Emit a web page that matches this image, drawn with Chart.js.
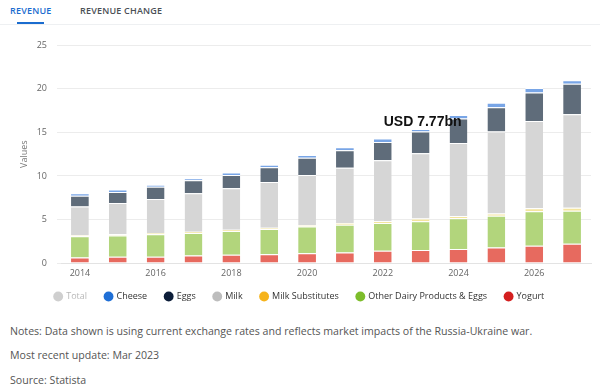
<!DOCTYPE html>
<html>
<head>
<meta charset="utf-8">
<script src="https://cdn.jsdelivr.net/npm/chart.js@4"></script>
<style>
    body { margin: 0; width: 600px; height: 391px; background: #fff; font-family: "Open Sans", sans-serif; overflow: hidden; position: relative; }
    .tabs { position: absolute; top: 0; left: 0; width: 600px; height: 24px; border-bottom: 1px solid #eef0f2; }
    .tab { position: absolute; top: 4px; font-size: 9px; font-weight: 600; letter-spacing: 0.2px; color: #4a4f55; }
    .tab.active { color: #1a6ccf; }
    .tab-line { position: absolute; top: 22px; left: 17px; width: 27px; height: 2px; background: #1a6ccf; }
    .chart-box { position: absolute; top: 30px; left: 0; width: 600px; height: 281px; }
    .notes { position: absolute; left: 10px; font-size: 10.6px; color: #555; }
</style>
</head>
<body>
<div class="tabs">
    <span class="tab active" style="left:10px">REVENUE</span>
    <span class="tab" style="left:80px">REVENUE CHANGE</span>
    <div class="tab-line"></div>
</div>
<div class="chart-box"><canvas id="chart"></canvas></div>
<div class="notes" style="top:324px">Notes: Data shown is using current exchange rates and reflects market impacts of the Russia-Ukraine war.</div>
<div class="notes" style="top:348px">Most recent update: Mar 2023</div>
<div class="notes" style="top:373px">Source: Statista</div>
<script>
    "use strict";

    // Data (USD bn)
    const years = ["2014", "2015", "2016", "2017", "2018", "2019", "2020", "2021", "2022", "2023", "2024", "2025", "2026", "2027"];
    const yogurt = [0.62, 0.73, 0.73, 0.85, 0.95, 1.0, 1.13, 1.2, 1.4, 1.5, 1.6, 1.77, 1.98, 2.2];
    const otherDairy = [2.46, 2.43, 2.57, 2.6, 2.73, 2.9, 3.07, 3.2, 3.2, 3.3, 3.55, 3.66, 3.97, 3.8];
    const milkSubstitutes = [0.12, 0.14, 0.15, 0.15, 0.15, 0.15, 0.15, 0.2, 0.2, 0.3, 0.25, 0.27, 0.35, 0.35];
    const milk = [3.3, 3.6, 3.9, 4.4, 4.77, 5.25, 5.75, 6.35, 7.0, 7.5, 8.4, 9.4, 10.0, 10.75];
    const eggs = [1.22, 1.25, 1.42, 1.5, 1.5, 1.7, 2.0, 2.0, 2.1, 2.5, 2.8, 2.8, 3.3, 3.5];
    const cheese = [0.28, 0.3, 0.23, 0.25, 0.3, 0.3, 0.3, 0.35, 0.4, 0.3, 0.4, 0.5, 0.5, 0.4];
    const yTicks = [0, 5, 10, 15, 20, 25];
    const calloutYear = "2023";
    const calloutText = "USD 7.77bn";

    // legend order (top of stack first), with the saturated legend colours
    const legendItems = [
        { text: "Total", color: "#cfcfcf", font: "#b8b8b8" },
        { text: "Cheese", color: "#1f6fd6", font: "#333" },
        { text: "Eggs", color: "#0c1d38", font: "#333" },
        { text: "Milk", color: "#bdbdbd", font: "#333" },
        { text: "Milk Substitutes", color: "#f6b31b", font: "#333" },
        { text: "Other Dairy Products & Eggs", color: "#7dbd2b", font: "#333" },
        { text: "Yogurt", color: "#d41f1f", font: "#333" },
    ];

    function series(label, data, color) {
        return {
            label: label,
            data: data,
            backgroundColor: color,
            borderColor: "#ffffff",
            borderWidth: { top: 1, bottom: 0, left: 0, right: 0 },
            borderSkipped: false,
            barPercentage: 0.47,
            categoryPercentage: 1,
        };
    }

    const callout = {
        id: "callout",
        afterDatasetsDraw(chart) {
            const ctx = chart.ctx;
            const idx = years.indexOf(calloutYear);
            const x = chart.scales.x.getPixelForValue(idx);
            let top = 0;
            chart.data.datasets.forEach((ds) => (top += ds.data[idx]));
            const y = chart.scales.y.getPixelForValue(top);
            ctx.save();
            ctx.font = "bold 14px 'Liberation Sans', Arial, sans-serif";
            ctx.fillStyle = "#111";
            ctx.textAlign = "center";
            ctx.textBaseline = "alphabetic";
            ctx.fillText(calloutText, x + 2, y - 3);
            ctx.restore();
        },
    };

    // the x axis box is kept short so the legend sits close; give its labels room to draw
    const xLabelRoom = {
        id: "xLabelRoom",
        afterLayout(chart) {
            chart.scales.x.bottom = chart.scales.x.top + 22;
        },
    };

    Chart.defaults.font.family = "'Open Sans', sans-serif";

    new Chart(document.getElementById("chart"), {
        type: "bar",
        data: {
            labels: years,
            datasets: [
                series("Yogurt", yogurt, "#e76a5f"),
                series("Other Dairy Products & Eggs", otherDairy, "#b2d57c"),
                series("Milk Substitutes", milkSubstitutes, "#f4e59e"),
                series("Milk", milk, "#d6d6d6"),
                series("Eggs", eggs, "#5f6c7a"),
                series("Cheese", cheese, "#78a5e6"),
            ],
        },
        options: {
            responsive: true,
            maintainAspectRatio: false,
            animation: false,
            layout: { padding: { left: 8, right: 9, top: 3, bottom: 0 } },
            plugins: {
                tooltip: { enabled: false },
                legend: {
                    position: "bottom",
                    labels: {
                        usePointStyle: true,
                        pointStyle: "circle",
                        boxWidth: 7,
                        boxHeight: 7,
                        padding: 18,
                        font: { size: 9 },
                        generateLabels: () =>
                            legendItems.map((it) => ({
                                text: it.text,
                                fillStyle: it.color,
                                strokeStyle: it.color,
                                fontColor: it.font,
                                lineWidth: 0,
                                pointStyle: "circle",
                                hidden: false,
                            })),
                    },
                },
            },
            scales: {
                x: {
                    stacked: true,
                    afterFit: (axis) => (axis.height = 11),
                    grid: { display: false, drawTicks: false },
                    border: { color: "#e3e3e3" },
                    ticks: {
                        color: "#666",
                        font: { size: 9 },
                        padding: 5,
                        maxRotation: 0,
                        autoSkip: false,
                        callback: (v, i) => (i % 2 === 0 ? years[i] : ""),
                    },
                },
                y: {
                    stacked: true,
                    min: 0,
                    max: 25,
                    afterBuildTicks: (axis) => (axis.ticks = yTicks.map((v) => ({ value: v }))),
                    afterFit: (axis) => (axis.width = 53),
                    grid: { color: "#ececec", tickLength: 4 },
                    border: { display: false },
                    ticks: { color: "#666", font: { size: 9 }, padding: 10 },
                    title: { display: true, text: "Values", color: "#777", font: { size: 9 }, padding: { top: 11, bottom: 0 } },
                },
            },
        },
        plugins: [callout, xLabelRoom],
    });
</script>
</body>
</html>
